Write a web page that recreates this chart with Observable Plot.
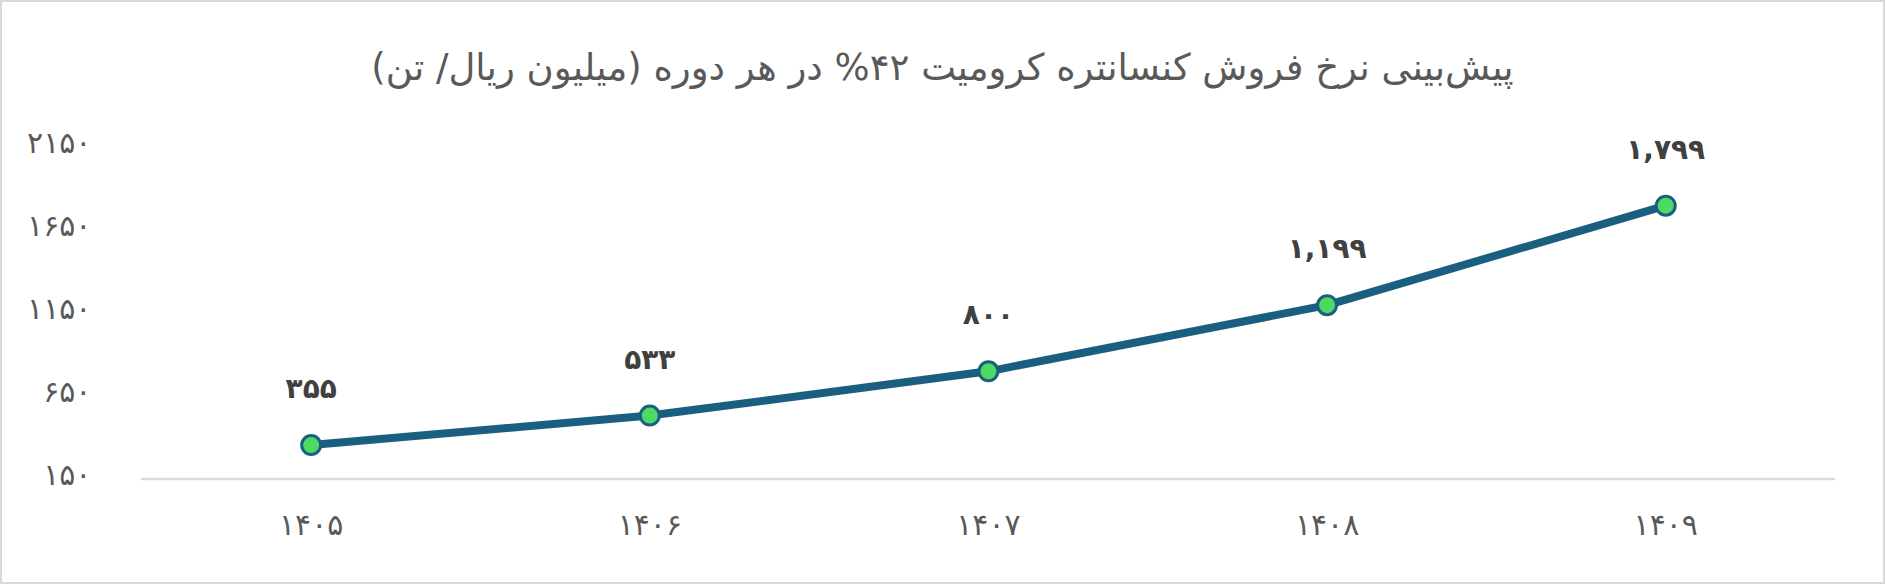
<!DOCTYPE html>
<html lang="fa">
<head>
<meta charset="utf-8">
<script src="https://cdn.jsdelivr.net/npm/d3@7"></script>
<script src="https://cdn.jsdelivr.net/npm/@observablehq/plot@0.6"></script>
<style>
  html, body { margin: 0; padding: 0; background: #fff; }
  #frame { position: relative; width: 1885px; height: 584px; box-sizing: border-box; border: 2px solid #d9d9d9; background: #fff; overflow: hidden; }
  #title { position: absolute; left: 0; right: 0; top: 44px; text-align: center; direction: rtl; font-family: "DejaVu Sans", sans-serif; font-size: 37px; line-height: 44px; color: #595959; }
  #chart { position: absolute; left: -2px; top: 98px; direction: ltr; }
</style>
</head>
<body>
<div id="frame">
  <div id="title">پیش‌بینی نرخ فروش کنسانتره کرومیت ۴۲% در هر دوره (میلیون ریال/ تن)</div>
  <div id="chart"></div>
</div>
<script>
const years = [1405, 1406, 1407, 1408, 1409];
const prices = [355, 533, 800, 1199, 1799];
const yTicks = [150, 650, 1150, 1650, 2150];

const faDigits = "۰۱۲۳۴۵۶۷۸۹";
const toFa = s => String(s).replace(/[0-9]/g, d => faDigits[+d]);
const fmtPlain = v => toFa(v);
const fmtComma = v => toFa(d3.format(",")(v));

const data = years.map((y, i) => ({year: y, price: prices[i]}));

const lineColor = "#1B5F80";
const chart = Plot.plot({
  width: 1885,
  height: 484,
  marginTop: 47,
  marginBottom: 105,
  marginLeft: 141,
  marginRight: 48,
  style: { fontFamily: "DejaVu Sans, sans-serif", color: "#595959", background: "transparent" },
  x: { type: "point", domain: years, padding: 0.5 },
  y: { domain: [150, 2150] },
  marks: [
    Plot.ruleY([150], { stroke: "#d9d9d9", strokeWidth: 2.5 }),
    Plot.axisY({ ticks: yTicks, tickSize: 0, tickPadding: 50, tickFormat: fmtPlain, fontSize: 30, label: null, dy: -4 }),
    Plot.axisX({ tickSize: 0, tickPadding: 35, tickFormat: fmtPlain, fontSize: 30, label: null }),
    Plot.lineY(data, { x: "year", y: "price", stroke: lineColor, strokeWidth: 8 }),
    Plot.dot(data, { x: "year", y: "price", r: 9.5, fill: "#4CD964", stroke: lineColor, strokeWidth: 3 }),
    Plot.text(data, { x: "year", y: "price", text: d => fmtComma(d.price), dy: -56, fontSize: 28, fontWeight: "bold", fill: "#404040" })
  ]
});
document.getElementById("chart").appendChild(chart);
</script>
</body>
</html>
